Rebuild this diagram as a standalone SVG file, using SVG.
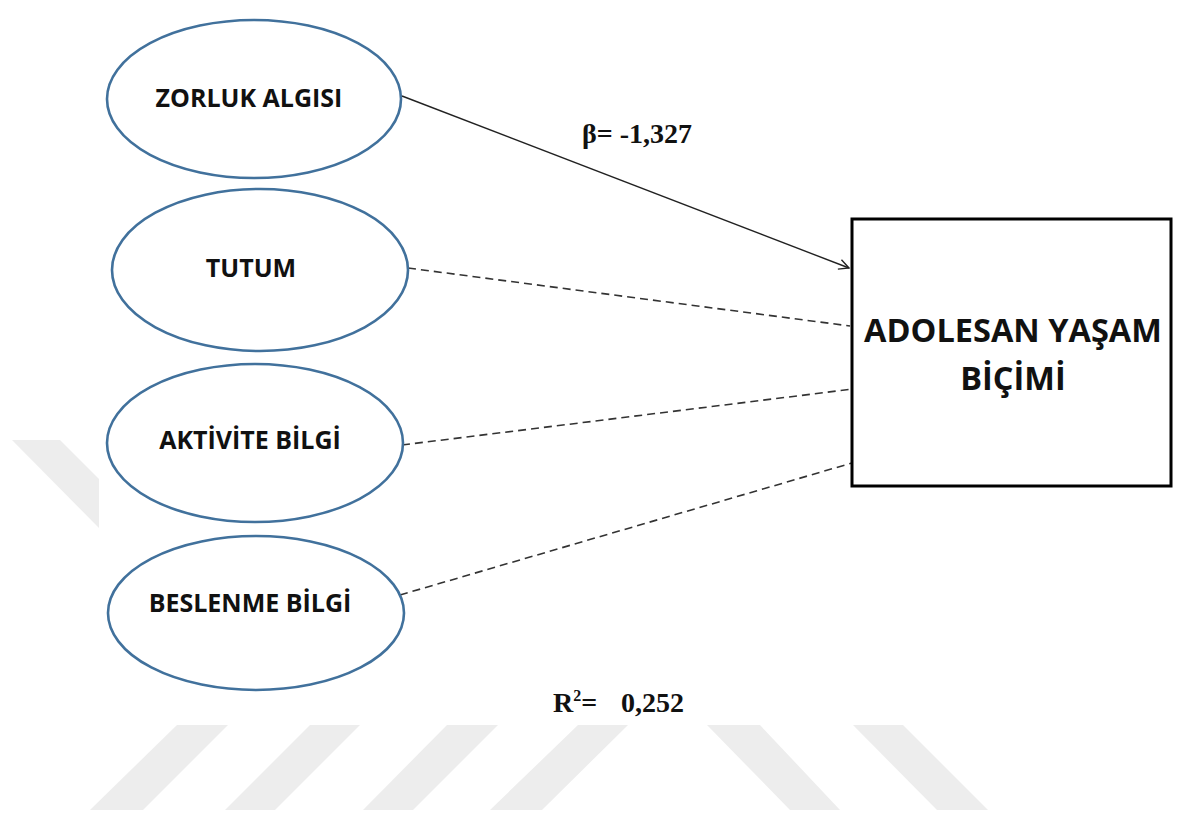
<svg xmlns="http://www.w3.org/2000/svg" width="1185" height="815" viewBox="0 0 1185 815">
  <defs>
    <style>
      .bg { fill: #ffffff; }
      .mark { fill: #ededed; }
      .latent { fill: #ffffff; stroke: #41719c; stroke-width: 2.6; }
      .latent-label { font-family: "Open Sans", "Liberation Sans", sans-serif; font-weight: 700; font-size: 25px; fill: #111111; text-anchor: middle; }
      .outcome { fill: #ffffff; stroke: #000000; stroke-width: 3; }
      .outcome-label { font-family: "Open Sans", "Liberation Sans", sans-serif; font-weight: 700; font-size: 32.5px; fill: #111111; text-anchor: middle; }
      .path-solid { stroke: #222222; stroke-width: 1.4; fill: none; }
      .path-dashed { stroke: #333333; stroke-width: 1.6; fill: none; stroke-dasharray: 8 5; }
      .stat { font-family: "Liberation Serif", "Times New Roman", serif; font-weight: 700; font-size: 28px; fill: #111111; }
    </style>
    <marker id="openArrow" viewBox="0 0 12 12" refX="11" refY="6" markerWidth="12" markerHeight="12" markerUnits="userSpaceOnUse" orient="auto">
      <path d="M1,1 L11,6 L1,11" fill="none" stroke="#222222" stroke-width="1.4"/>
    </marker>
  </defs>

  <rect class="bg" x="0" y="0" width="1185" height="815"/>

  <!-- background stripes -->
  <g id="stripes">
    <polygon class="mark" points="12,440 60,440 99,479 99,528"/>
    <polygon class="mark" points="177,725 228,725 143,810 90,810"/>
    <polygon class="mark" points="310,725 360,725 275,810 225,810"/>
    <polygon class="mark" points="447,725 498,725 413,810 363,810"/>
    <polygon class="mark" points="578,725 628,725 542,810 490,810"/>
    <polygon class="mark" points="707,725 760,725 840,810 790,810"/>
    <polygon class="mark" points="853,725 903,725 988,810 937,810"/>
  </g>

  <!-- paths -->
  <g id="connectors">
    <line class="path-solid" x1="402" y1="96" x2="849" y2="268" marker-end="url(#openArrow)"/>
    <line class="path-dashed" x1="408" y1="268" x2="850" y2="326"/>
    <line class="path-dashed" x1="402" y1="445" x2="853" y2="389"/>
    <line class="path-dashed" x1="400" y1="595" x2="852" y2="463"/>
  </g>

  <g id="zorluk-algisi">
    <ellipse class="latent" cx="254" cy="99" rx="147" ry="79"/>
    <text class="latent-label" x="249" y="107">ZORLUK ALGISI</text>
  </g>

  <g id="tutum">
    <ellipse class="latent" cx="260" cy="270" rx="148" ry="81"/>
    <text class="latent-label" x="251" y="277">TUTUM</text>
  </g>

  <g id="aktivite-bilgi">
    <ellipse class="latent" cx="255" cy="443" rx="148" ry="79"/>
    <text class="latent-label" x="250" y="449">AKTİVİTE BİLGİ</text>
  </g>

  <g id="beslenme-bilgi">
    <ellipse class="latent" cx="256" cy="613" rx="148" ry="77"/>
    <text class="latent-label" x="250" y="612">BESLENME BİLGİ</text>
  </g>

  <g id="adolesan-yasam-bicimi">
    <rect class="outcome" x="852" y="219" width="319" height="267"/>
    <text class="outcome-label" x="1013" y="342">ADOLESAN YAŞAM</text>
    <text class="outcome-label" x="1013" y="390">BİÇİMİ</text>
  </g>

  <g id="statistics">
    <text class="stat" x="582" y="143">β= -1,327</text>
    <text class="stat" x="553" y="712">R<tspan font-size="16" dy="-11">2</tspan><tspan dy="11">=</tspan></text>
    <text class="stat" x="621" y="712">0,252</text>
  </g>
</svg>
